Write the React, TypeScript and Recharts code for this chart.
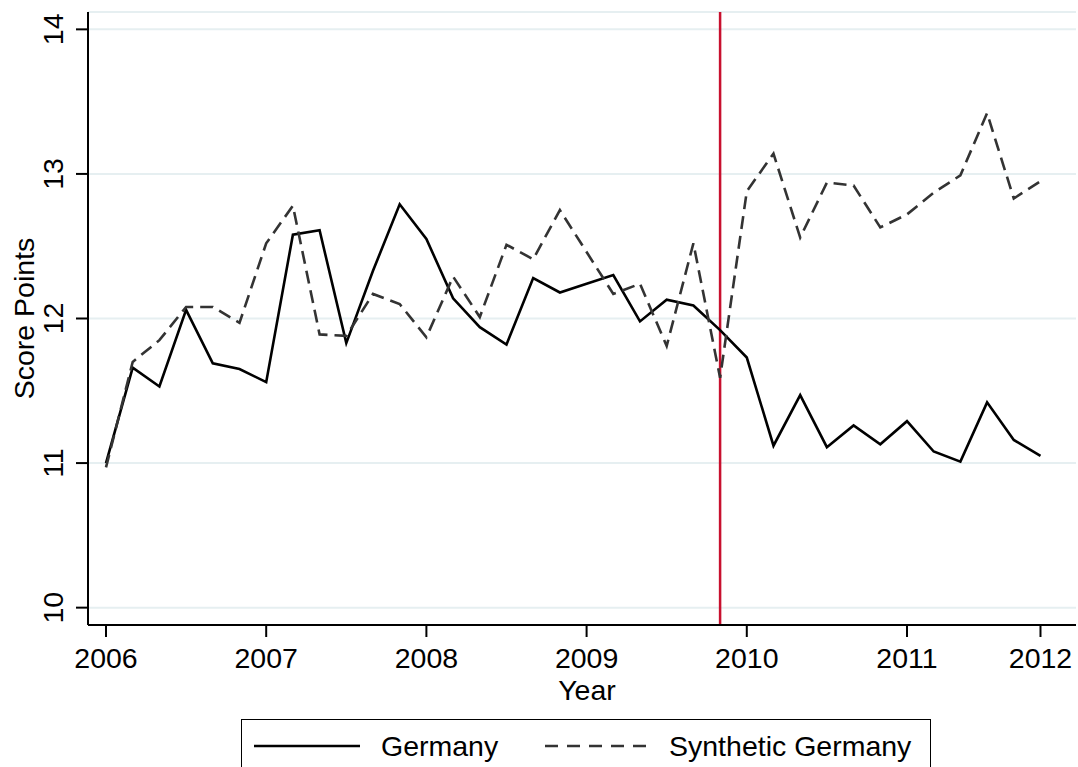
import { LineChart, Line, XAxis, YAxis, CartesianGrid, ReferenceLine, Legend } from 'recharts';

// bimonthly periods, year labels sit on these period indices
const yearLabels = ['2006', '2007', '2008', '2009', '2010', '2011', '2012'];
const yearTickPeriods = [0, 6, 12, 18, 24, 30, 35];
const scoreTicks = [10, 11, 12, 13, 14];
const treatmentPeriod = 23;

const germany = [
  11.0, 11.66, 11.53, 12.06, 11.69, 11.65, 11.56, 12.58, 12.61, 11.83, 12.33, 12.79,
  12.55, 12.14, 11.94, 11.82, 12.28, 12.18, 12.24, 12.3, 11.98, 12.13, 12.09, 11.92,
  11.73, 11.12, 11.47, 11.11, 11.26, 11.13, 11.29, 11.08, 11.01, 11.42, 11.16, 11.05,
];

const syntheticGermany = [
  10.97, 11.7, 11.85, 12.08, 12.08, 11.97, 12.52, 12.78, 11.89, 11.88, 12.17, 12.1,
  11.87, 12.29, 12.01, 12.51, 12.41, 12.75, 12.46, 12.17, 12.24, 11.81, 12.52, 11.59,
  12.88, 13.14, 12.56, 12.94, 12.92, 12.63, 12.72, 12.87, 12.99, 13.42, 12.83, 12.95,
];

const chartData = germany.map((v, i) => ({
  period: i,
  germany: v,
  synthetic: syntheticGermany[i],
}));

const FONT = '"Liberation Sans", Arial, Helvetica, sans-serif';
const FS = 28.5;

const XTick = ({ x, y, payload }: any) => {
  const idx = yearTickPeriods.indexOf(payload.value);
  return (
    <text x={x} y={y + 31} textAnchor="middle" fontSize={FS} fill="#000" fontFamily={FONT}>
      {yearLabels[idx]}
    </text>
  );
};

const YTick = ({ x, y, payload }: any) => (
  <text
    transform={`translate(${x - 13},${y}) rotate(-90)`}
    textAnchor="middle"
    fontSize={FS}
    fill="#000"
    fontFamily={FONT}
  >
    {payload.value}
  </text>
);

const XLabel = ({ viewBox }: any) => (
  <text
    x={viewBox.x + viewBox.width / 2 + 5}
    y={viewBox.y + 75}
    textAnchor="middle"
    fontSize={FS}
    fill="#000"
    fontFamily={FONT}
  >
    Year
  </text>
);

const YLabel = ({ viewBox }: any) => (
  <text
    transform={`translate(34,${viewBox.y + viewBox.height / 2}) rotate(-90)`}
    textAnchor="middle"
    fontSize={FS}
    fill="#000"
    fontFamily={FONT}
  >
    Score Points
  </text>
);

const LegendBox = () => (
  <div
    style={{
      width: 690,
      height: 48,
      boxSizing: 'border-box',
      border: '1.5px solid #000',
      borderBottom: 'none',
      background: '#fff',
    }}
  >
    <svg width={688} height={47}>
      <line x1={12} x2={118} y1={26} y2={26} stroke="#000" strokeWidth={2.5} />
      <text x={139} y={36} fontSize={FS} fill="#000" fontFamily={FONT}>
        Germany
      </text>
      <line x1={303} x2={409} y1={26} y2={26} stroke="#333" strokeWidth={2.5} strokeDasharray="13 9" />
      <text x={427} y={36} fontSize={FS} fill="#000" fontFamily={FONT}>
        Synthetic Germany
      </text>
    </svg>
  </div>
);

export default function App() {
  return (
    <div style={{ position: 'absolute', left: 0, top: 0, width: 1078, height: 767, background: '#fff' }}>
      <LineChart width={1078} height={767} data={chartData} margin={{ top: 12, right: 2, left: 0, bottom: 0 }}>
        <CartesianGrid vertical={false} stroke="#e6eff1" strokeWidth={2} />
        <XAxis
          dataKey="period"
          type="number"
          domain={[-0.674, 36.33]}
          ticks={yearTickPeriods}
          height={142}
          tickSize={12}
          tickMargin={0}
          tick={<XTick />}
          axisLine={{ stroke: '#000', strokeWidth: 2 }}
          tickLine={{ stroke: '#000', strokeWidth: 2 }}
          label={<XLabel />}
        />
        <YAxis
          type="number"
          domain={[9.88, 14.12]}
          ticks={scoreTicks}
          width={88}
          tickSize={12}
          tickMargin={0}
          tick={<YTick />}
          axisLine={{ stroke: '#000', strokeWidth: 2 }}
          tickLine={{ stroke: '#000', strokeWidth: 2 }}
          label={<YLabel />}
        />
        <ReferenceLine x={treatmentPeriod} stroke="#c8102e" strokeWidth={2.5} />
        <Line
          type="linear"
          dataKey="germany"
          name="Germany"
          stroke="#000"
          strokeWidth={2.6}
          dot={false}
          isAnimationActive={false}
        />
        <Line
          type="linear"
          dataKey="synthetic"
          name="Synthetic Germany"
          stroke="#333"
          strokeWidth={2.6}
          strokeDasharray="13 7"
          dot={false}
          isAnimationActive={false}
        />
        <Legend
          layout="horizontal"
          verticalAlign="middle"
          align="center"
          content={<LegendBox />}
          wrapperStyle={{ position: 'absolute', left: 241, top: 719, width: 690, height: 48 }}
        />
      </LineChart>
    </div>
  );
}
